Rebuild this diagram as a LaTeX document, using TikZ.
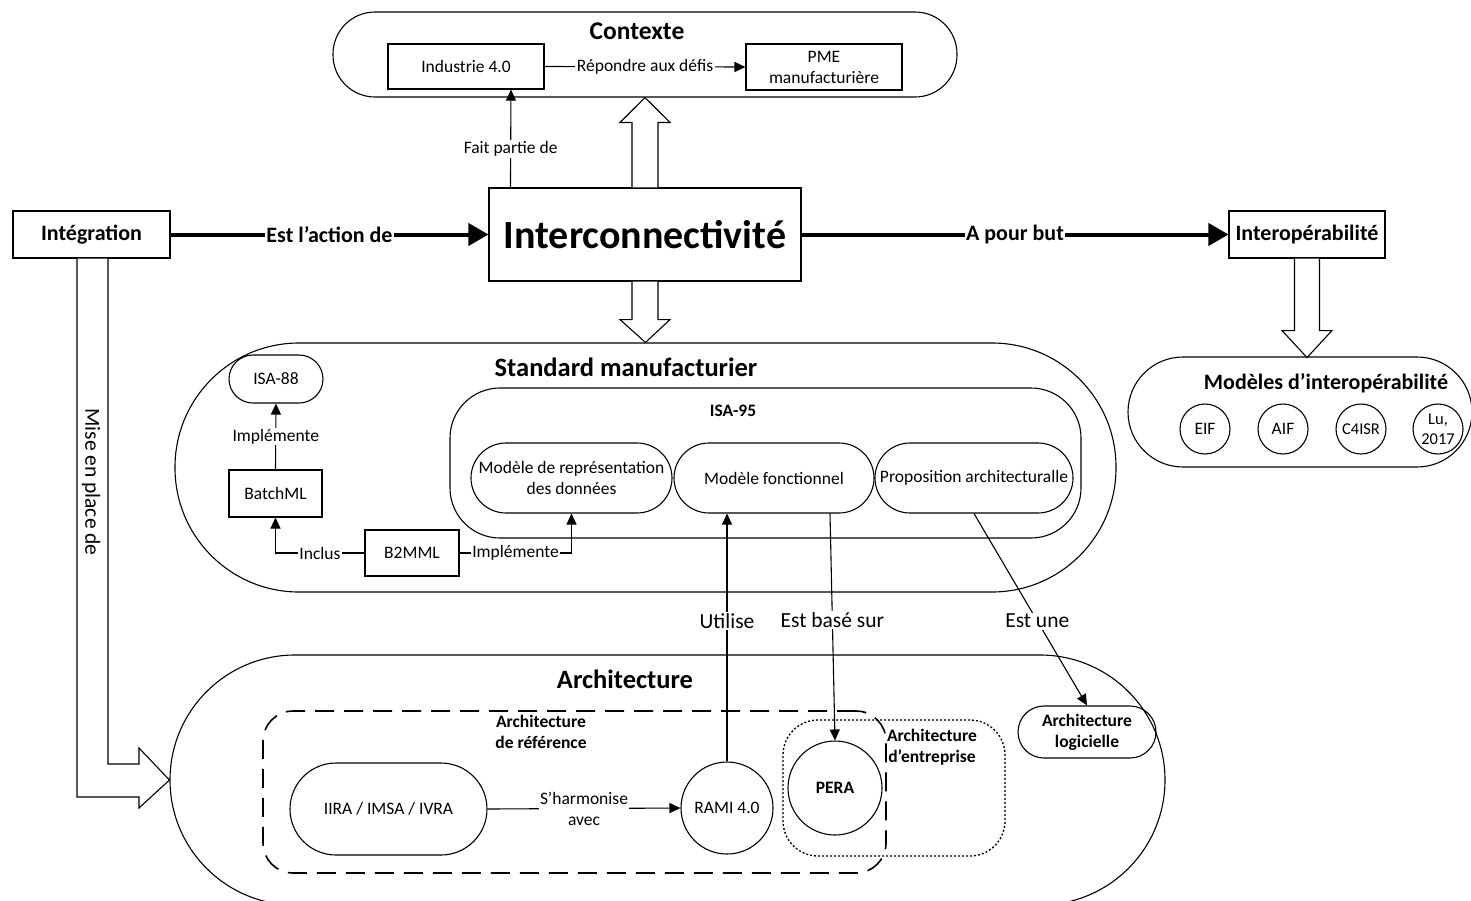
\documentclass[tikz,border=0pt]{standalone}
\usepackage{fontspec}
\setmainfont{Carlito}
\usetikzlibrary{arrows.meta,calc}
\begin{document}
\begin{tikzpicture}[x=1pt,y=-1pt, line width=1.1pt,
 every node/.style={inner sep=0pt, font=\fontsize{17.5}{21}\selectfont},
 box/.style={draw, rectangle, align=center},
 pill/.style={draw, rectangle, align=center},
 circ/.style={draw, circle, align=center},
 lbl/.style={fill=white, inner sep=1.5pt},
 arr/.style={-{Triangle[length=11pt,width=10pt]}},
 thickarr/.style={line width=4pt, -{Triangle[length=20pt,width=22pt]}},
 hollow/.style={draw, fill=white, line width=1.1pt, line join=miter},
 ttl/.style={font=\fontsize{#1}{#1}\selectfont\bfseries},
 ml/.style={align=center, font=\fontsize{17.5}{21}\selectfont},
 mlb/.style={align=center, font=\fontsize{17.5}{21}\selectfont\bfseries},
 big/.style={font=\fontsize{21.5}{22}\selectfont},
 dashbox/.style={draw, dash pattern=on 19pt off 10pt, line width=1.6pt},
 dotbox/.style={draw, dash pattern=on 2pt off 2pt, line width=1.3pt},
]
\useasboundingbox (0,0) rectangle (1471,900);
\clip (0,0) rectangle (1471,900);

% ---------- Contexte
\node[pill, rounded corners=42pt, minimum width=624pt, minimum height=85pt] (ctx) at (645,54.5) {};
\node[ttl=25.5] (ctxt) at (637,31) {Contexte};
\node[box, minimum width=156pt, minimum height=45pt] (ind) at (466,66.5) {Industrie 4.0};
\node[box, ml, minimum width=156pt, minimum height=46pt] (pme) at (824,67) {PME\\manufacturière};

% ---------- main row
\node[box, minimum width=312pt, minimum height=93pt, ttl=40] (ic) at (645,234.5) {Interconnectivité};
\node[box, minimum width=157pt, minimum height=47pt, ttl=22] (int) at (91.5,234.5) {Intégration};
\node[box, minimum width=156pt, minimum height=47pt, ttl=22] (iop) at (1307,234.5) {Interopérabilité};

% ---------- Modeles d'interoperabilite
\node[pill, rounded corners=55pt, minimum width=344pt, minimum height=110pt] (mio) at (1300,412) {};
\node[ttl=22] (miot) at (1326,383) {Modèles d’interopérabilité};
\node[circ, minimum size=50pt] (eif) at (1205,429) {EIF};
\node[circ, minimum size=50pt] (aif) at (1283,429) {AIF};
\node[circ, minimum size=50pt, font=\fontsize{16.5}{20}\selectfont] (c4) at (1361,429) {C4ISR};
\node[circ, minimum size=50pt, align=center, font=\fontsize{16.5}{20}\selectfont] (lu) at (1438,429) {Lu,\\2017};

% ---------- Standard manufacturier
\node[pill, rounded corners=124pt, minimum width=941pt, minimum height=249pt] (sm) at (645.5,467.5) {};
\node[ttl=26.5] (smt) at (626,367) {Standard manufacturier};
\node[pill, rounded corners=24pt, minimum width=94pt, minimum height=48pt] (isa88) at (276,379) {ISA-88};
\node[box, minimum width=93pt, minimum height=47pt] (batch) at (275.5,493.5) {BatchML};
\node[box, minimum width=94pt, minimum height=46pt] (b2) at (412,553) {B2MML};
\node[pill, rounded corners=50pt, minimum width=631pt, minimum height=150pt] (isa95) at (765.5,463) {};
\node[ttl=17.5] (isa95t) at (733,411) {ISA-95};
\node[pill, ml, rounded corners=35pt, minimum width=201pt, minimum height=70pt] (mrd) at (571.5,478) {Modèle de représentation\\des données};
\node[pill, rounded corners=35pt, minimum width=200pt, minimum height=70pt] (mf) at (774,478) {Modèle fonctionnel};
\node[pill, rounded corners=35pt, minimum width=198pt, minimum height=70pt] (pa) at (974,478) {Proposition architecturalle};

% ---------- Architecture
\node[pill, rounded corners=125pt, minimum width=995pt, minimum height=250pt] (arch) at (667.5,780) {};
\node[ttl=26.5] (archt) at (625,679) {Architecture};
\node[dashbox, rectangle, rounded corners=30pt, minimum width=623pt, minimum height=162pt] (ref) at (574.5,792) {};
\node[mlb] (reft) at (541,732) {Architecture\\de référence};
\node[dotbox, rectangle, rounded corners=35pt, minimum width=222pt, minimum height=136pt] (ent) at (894,788) {};
\node[mlb] (entt) at (932,747) {Architecture\\d’entreprise};
\node[pill, rounded corners=46pt, minimum width=197pt, minimum height=92pt] (iira) at (388.5,809) {IIRA / IMSA / IVRA};
\node[circ, minimum size=92pt] (rami) at (727,808) {RAMI 4.0};
\node[circ, minimum size=94pt, font=\fontsize{17.5}{21}\selectfont\bfseries] (pera) at (835,788) {PERA};
\node[pill, mlb, rounded corners=26pt, minimum width=138pt, minimum height=52pt] (alog) at (1087,732) {Architecture\\logicielle};

% ---------- hollow arrows
\path[hollow] ($(ic.north)+(-13,0)$) -- ++(0,-65) -- ++(-12,0) -- ($(ctx.south)$) -- ($(ic.north)+(25,-65)$) -- ++(-12,0) -- ($(ic.north)+(13,0)$);
\path[hollow] ($(ic.south)+(-13,0)$) -- ++(0,38) -- ++(-12,0) -- (sm.north) -- ($(ic.south)+(25,38)$) -- ++(-12,0) -- ($(ic.south)+(13,0)$);
\path[hollow] ($(iop.south)+(-12.5,0)$) -- ++(0,72) -- ++(-12.5,0) -- ($(iop.south)+(0,99)$) -- ($(iop.south)+(25,72)$) -- ++(-12.5,0) -- ($(iop.south)+(12.5,0)$);
\path[hollow] (int.south -| 77,0) -- (77,797) -- (139,797) -- (139,808) -- (arch.west) -- (139,748) -- (139,764) -- (108,764) -- (int.south -| 108,0);
\node[big, rotate=-90] (mep) at (91,482) {Mise en place de};

% ---------- connectors
\draw[arr] (ind.east) -- node[lbl] {Répondre aux défis} (pme.west);
\draw[arr] ($(ic.north west)+(22,0)$) -- node[lbl, pos=0.39] {Fait partie de} ($(ind.south)+(45,0)$);
\draw[thickarr] (int.east) -- node[lbl, ttl=22] {Est l’action de} (ic.west);
\draw[thickarr] (ic.east) -- node[lbl, ttl=22] {A pour but} (iop.west);

\draw[arr] (batch.north) -- node[lbl] {Implémente} (isa88.south);
\draw[arr] (b2.west) -| node[lbl, pos=0.25] {Inclus} (batch.south);
\draw[arr] (b2.east) -| node[lbl, pos=0.25] {Implémente} (mrd.south);

\draw[arr] (rami.north) -- node[lbl, big, pos=0.568] {Utilise} (rami.north |- mf.south);
\draw[arr] ($(mf.south)+(56,0)$) -- node[lbl, big, pos=0.47] {Est basé sur} (pera.north);
\draw[arr] (pa.south) -- node[lbl, big, pos=0.56] {Est une} (alog.north);
\draw[arr] (iira.east) -- node[lbl, ml] {S’harmonise\\avec} (rami.west);
\end{tikzpicture}
\end{document}
